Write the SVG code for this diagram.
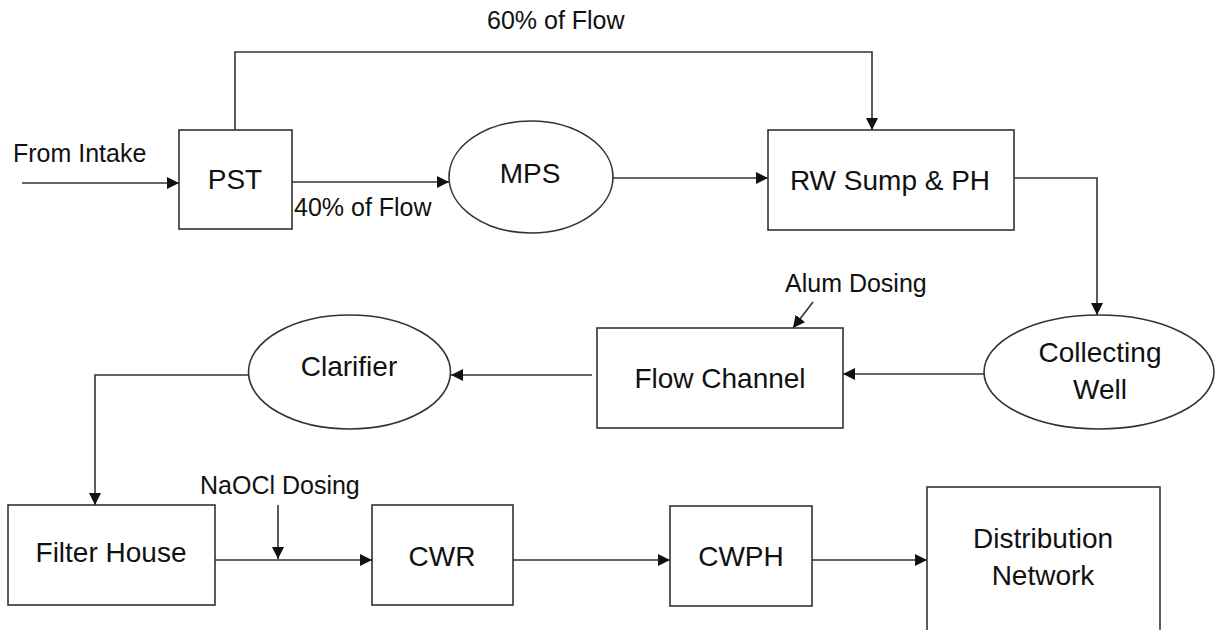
<svg xmlns="http://www.w3.org/2000/svg" width="1215" height="630" viewBox="0 0 1215 630">
  <style>
    .box { fill: #ffffff; stroke: #333333; stroke-width: 1.6; }
    .line { fill: none; stroke: #333333; stroke-width: 1.6; }
    .arrow { fill: none; stroke: #333333; stroke-width: 1.6; marker-end: url(#ah); }
    .node { font-family: "Liberation Sans", Arial, sans-serif; font-size: 28px; fill: #111111; text-anchor: middle; }
    .lbl { font-family: "Liberation Sans", Arial, sans-serif; font-size: 25px; fill: #111111; }
  </style>
  <defs>
    <marker id="ah" markerUnits="userSpaceOnUse" markerWidth="13" markerHeight="12" refX="12" refY="6" orient="auto">
      <path d="M0,0 L12,6 L0,12 z" fill="#111111"/>
    </marker>
  </defs>
  <rect width="1215" height="630" fill="#ffffff"/>

  <g id="connectors">
    <path class="arrow" d="M22,183 H179"/>
    <path class="arrow" d="M292,182 H449"/>
    <path class="arrow" d="M235,130 V52 H872 V130"/>
    <path class="arrow" d="M612,178 H768"/>
    <path class="arrow" d="M1014,178 H1097 V315"/>
    <path class="arrow" d="M984,374 H843"/>
    <path class="arrow" d="M592,375 H451"/>
    <path class="arrow" d="M248,375 H95 V505"/>
    <path class="arrow" d="M813,302 L793,328"/>
    <path class="arrow" d="M215,560 H372"/>
    <path class="arrow" d="M278,505 V559"/>
    <path class="arrow" d="M513,560 H670"/>
    <path class="arrow" d="M812,560 H927"/>
  </g>

  <g id="labels">
    <text class="lbl" x="487" y="29">60% of Flow</text>
    <text class="lbl" x="13" y="162">From Intake</text>
    <text class="lbl" x="294" y="216">40% of Flow</text>
    <text class="lbl" x="785" y="292">Alum Dosing</text>
    <text class="lbl" x="200" y="494">NaOCl Dosing</text>
  </g>

  <g id="pst">
    <rect class="box" x="179" y="130" width="113" height="99"/>
    <text class="node" x="235" y="189">PST</text>
  </g>
  <g id="mps">
    <ellipse class="box" cx="531" cy="177" rx="82" ry="56"/>
    <text class="node" x="530" y="183">MPS</text>
  </g>
  <g id="rw-sump">
    <rect class="box" x="768" y="130" width="246" height="100"/>
    <text class="node" x="890" y="190">RW Sump &amp; PH</text>
  </g>
  <g id="collecting-well">
    <ellipse class="box" cx="1099" cy="372" rx="115" ry="57"/>
    <text class="node" x="1100" y="362">Collecting</text>
    <text class="node" x="1100" y="399">Well</text>
  </g>
  <g id="flow-channel">
    <rect class="box" x="597" y="328" width="246" height="100"/>
    <text class="node" x="720" y="388">Flow Channel</text>
  </g>
  <g id="clarifier">
    <ellipse class="box" cx="349.5" cy="372" rx="101" ry="57"/>
    <text class="node" x="349" y="376">Clarifier</text>
  </g>
  <g id="filter-house">
    <rect class="box" x="8" y="505" width="207" height="100"/>
    <text class="node" x="111" y="562">Filter House</text>
  </g>
  <g id="cwr">
    <rect class="box" x="372" y="505" width="141" height="100"/>
    <text class="node" x="442" y="566">CWR</text>
  </g>
  <g id="cwph">
    <rect class="box" x="670" y="506" width="142" height="100"/>
    <text class="node" x="741" y="566">CWPH</text>
  </g>
  <g id="distribution">
    <rect class="box" x="927" y="487" width="233" height="170"/>
    <text class="node" x="1043" y="548">Distribution</text>
    <text class="node" x="1043" y="585">Network</text>
  </g>
</svg>
